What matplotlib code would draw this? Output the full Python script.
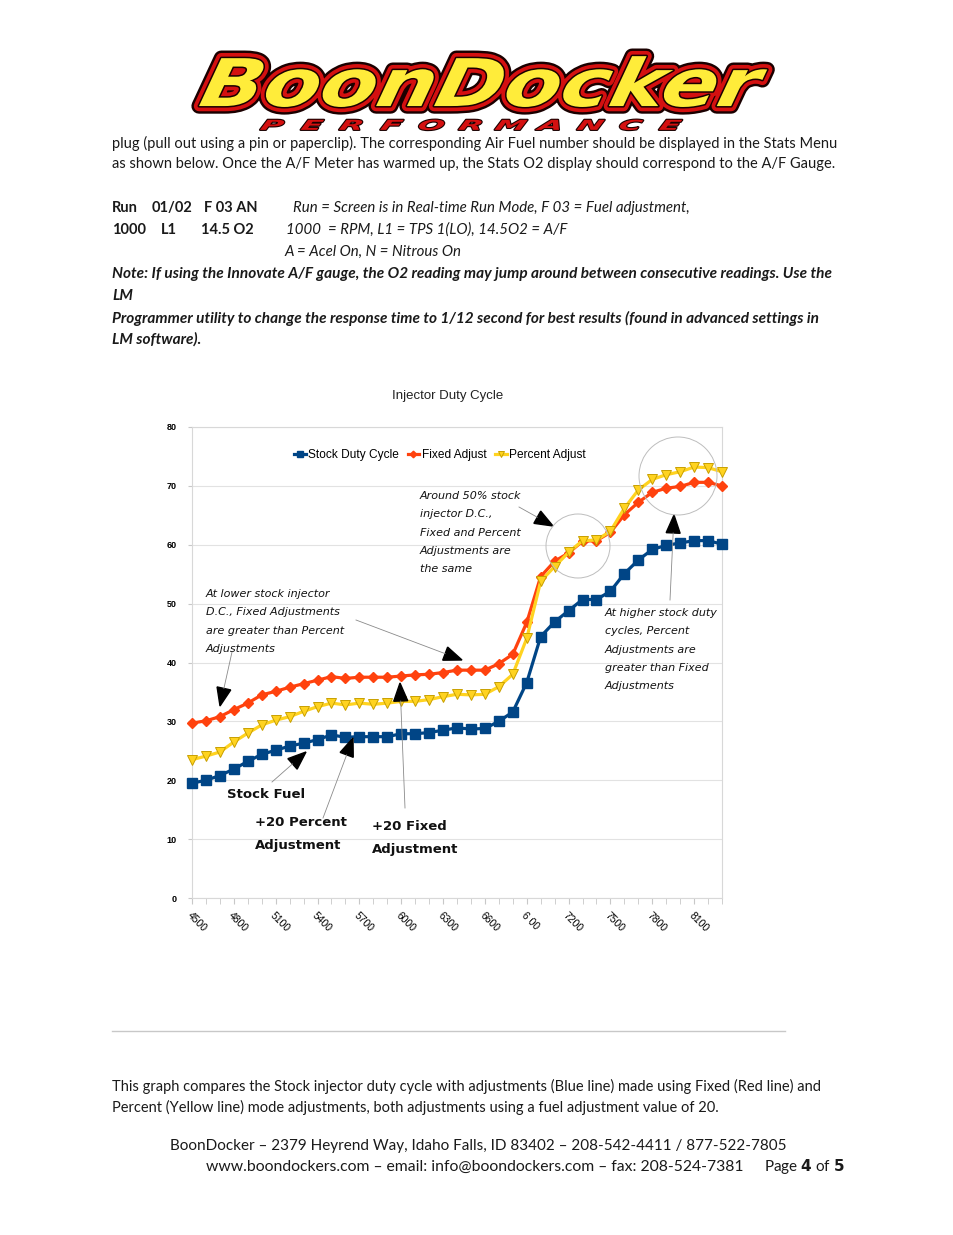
import numpy as np
import matplotlib
matplotlib.use("Agg")
import matplotlib.pyplot as plt
import matplotlib.patheffects as pe
import matplotlib.colors as mcolors
from matplotlib.patches import Polygon, Ellipse
from matplotlib.transforms import Affine2D

# chart data
rpm = [4500, 4600, 4700, 4800, 4900, 5000, 5100, 5200, 5300, 5400,
       5500, 5600, 5700, 5800, 5900, 6000, 6100, 6200, 6300, 6400,
       6500, 6600, 6700, 6800, 6900, 7000, 7100, 7200, 7300, 7400,
       7500, 7600, 7700, 7800, 7900, 8000, 8100, 8200, 8300]
stock = [19.5, 20.0, 20.8, 21.9, 23.2, 24.4, 25.1, 25.8, 26.3, 26.9,
         27.7, 27.3, 27.4, 27.4, 27.4, 27.9, 27.9, 28.1, 28.5, 28.9,
         28.7, 28.8, 30.0, 31.6, 36.6, 44.4, 46.9, 48.8, 50.7, 50.7,
         52.1, 55.1, 57.4, 59.2, 59.9, 60.3, 60.7, 60.7, 60.1]
fixed = [29.7, 30.1, 30.8, 32.0, 33.1, 34.5, 35.1, 35.8, 36.4, 37.0,
         37.6, 37.3, 37.5, 37.5, 37.5, 37.7, 37.9, 38.0, 38.3, 38.7,
         38.7, 38.7, 39.8, 41.4, 46.8, 54.6, 57.2, 58.6, 60.6, 60.7,
         62.1, 65.1, 67.2, 68.9, 69.6, 69.9, 70.6, 70.6, 70.0]
percent = [23.5, 24.1, 24.8, 26.5, 28.0, 29.4, 30.2, 30.8, 31.7, 32.5,
           33.1, 32.8, 33.1, 32.9, 33.1, 33.4, 33.4, 33.7, 34.2, 34.6,
           34.5, 34.6, 35.9, 38.0, 44.1, 53.8, 56.3, 58.7, 60.7, 60.8,
           62.3, 66.2, 69.3, 71.1, 71.9, 72.4, 73.2, 73.1, 72.4]
xlabels = ["4500", "4800", "5100", "5400", "5700", "6000", "6300",
           "6600", "6 00", "7200", "7500", "7800", "8100"]

W, H = 954, 1235
fig = plt.figure(figsize=(W / 100, H / 100), dpi=100)
fig.patch.set_facecolor("white")


def P(x, y):
    return (x / W, 1 - y / H)


def T(x, y, s, **kw):
    kw.setdefault("va", "center")
    kw.setdefault("family", "Lato")
    kw.setdefault("fontsize", 10.5)
    kw.setdefault("color", "#1a1a1a")
    fig.text(x / W, 1 - y / H, s, **kw)


class Squash(pe.AbstractPathEffect):
    # draws the text path stretched/skewed around (cx, cy) in pixels,
    # moved down by `down` pixels
    def __init__(self, cx, cy, sx=1, sy=1, skew=0, lw=0, ec=None, fc=None, down=0):
        super().__init__()
        self.cx, self.cy, self.sx, self.sy, self.skew = cx, H - cy, sx, sy, skew
        self.lw, self.ec, self.fc, self.down = lw, ec, fc, down

    def draw_path(self, renderer, gc, tpath, affine, rgbFace=None):
        extra = (Affine2D().translate(-self.cx, -self.cy).skew_deg(self.skew, 0)
                 .scale(self.sx, self.sy).translate(self.cx, self.cy - self.down))
        g = renderer.new_gc()
        g.copy_properties(gc)
        if self.lw:
            g.set_linewidth(self.lw)
            g.set_foreground(self.ec)
            g.set_joinstyle("round")
            renderer.draw_path(g, tpath, affine + extra, None)
        else:
            g.set_linewidth(0)
            renderer.draw_path(g, tpath, affine + extra, mcolors.to_rgba(self.fc))
        g.restore()


# ---- logo
lx, ly = 480, 70
sq = dict(sx=1.08, sy=0.86, skew=10, down=18)
T(lx, ly, "BoonDocker", ha="center", family="DejaVu Sans", fontsize=55,
  weight="bold", style="italic", color="#ffe617",
  path_effects=[Squash(lx, ly, lw=11, ec="#1a0000", **sq),
                Squash(lx, ly, lw=7.5, ec="#d41010", **sq),
                Squash(lx, ly, lw=2.2, ec="#1a0000", **sq),
                Squash(lx, ly, fc="#ffec3a", **sq)])
for i, ch in enumerate("PERFORMANCE"):
    cx = 272 + i * 39.8
    T(cx, 126, ch, ha="center", family="DejaVu Sans", fontsize=9,
      weight="bold", style="italic", color="#d41010",
      path_effects=[Squash(cx, 126, sx=2.5, sy=1.1, skew=8, lw=1.6, ec="#1a0000"),
                    Squash(cx, 126, sx=2.5, sy=1.1, skew=8, fc="#d41010")])

# ---- body text above chart
T(112, 143, "plug (pull out using a pin or paperclip). The corresponding Air Fuel number should be displayed in the Stats Menu")
T(112, 164, "as shown below. Once the A/F Meter has warmed up, the Stats O2 display should correspond to the A/F Gauge.")
for x, s in [(112, "Run"), (152, "01/02"), (204, "F 03 AN")]:
    T(x, 208, s, weight="bold")
for x, s in [(112, "1000"), (161, "L1"), (201, "14.5 O2")]:
    T(x, 230, s, weight="bold")
it = dict(style="italic", fontsize=10.8)
T(293, 208, "Run = Screen is in Real-time Run Mode, F 03 = Fuel adjustment,", **it)
T(286, 230, "1000  = RPM, L1 = TPS 1(LO), 14.5O2 = A/F", **it)
T(284, 252, "A = Acel On, N = Nitrous On", **it)
bi = dict(style="italic", weight="bold", fontsize=11.05)
T(112, 274, "Note: If using the Innovate A/F gauge, the O2 reading may jump around between consecutive readings. Use the", **bi)
T(112, 296, "LM", **bi)
T(112, 318, "Programmer utility to change the response time to 1/12 second for best results (found in advanced settings in", **bi)
T(112, 339, "LM software).", **bi)

# ---- chart
ax = fig.add_axes([192 / W, 1 - 898 / H, 530 / W, 471 / H])
x = np.arange(len(rpm))
ax.plot(x, stock, color="#004586", lw=2.3, marker="s", ms=6.5,
        label="Stock Duty Cycle", clip_on=False, zorder=3)
ax.plot(x, fixed, color="#ff420e", lw=2.3, marker="D", ms=4.8,
        label="Fixed Adjust", clip_on=False, zorder=4)
ax.plot(x, percent, color="#ffd320", lw=2.3, marker="v", ms=7,
        mec="#c9a000", mew=0.7, label="Percent Adjust", clip_on=False, zorder=5)

ax.set_xlim(0, len(rpm) - 1)
ax.set_ylim(0, 80)
ax.set_yticks(range(0, 81, 10))
ax.set_xticks(x, minor=True)
ax.set_xticks(x[::3])
ax.set_xticklabels(xlabels, rotation=-45, ha="left", va="top",
                   rotation_mode="anchor", fontsize=7.5, family="Liberation Sans")
ax.tick_params(axis="x", which="both", length=4, color="#c8c8c8", pad=5)
ax.tick_params(axis="y", length=3, color="#c8c8c8", labelsize=6.5, pad=8)
for lab in ax.get_yticklabels():
    lab.set_family("Liberation Sans")
    lab.set_weight("bold")
ax.grid(axis="y", color="#e2e2e2", lw=0.8)
ax.set_axisbelow(True)
for s in ax.spines.values():
    s.set_color("#d8d8d8")
    s.set_linewidth(0.8)

fig.text(448 / W, 1 - 396 / H, "Injector Duty Cycle", ha="center", va="center",
         family="Liberation Sans", fontsize=9.5, color="#222222")
ax.legend(loc="center", bbox_to_anchor=P(440, 455), bbox_transform=fig.transFigure,
          ncol=3, frameon=False, prop={"family": "Liberation Sans", "size": 8.6},
          handlelength=1.0, handletextpad=0.2, columnspacing=0.7, markerscale=0.7)

# annotations
ann = dict(family="DejaVu Sans", style="italic", fontsize=8, color="#111111")
for i, s in enumerate(["Around 50% stock", "injector D.C.,", "Fixed and Percent",
                       "Adjustments are", "the same"]):
    T(420, 496 + i * 18.3, s, **ann)
for i, s in enumerate(["At lower stock injector", "D.C., Fixed Adjustments",
                       "are greater than Percent", "Adjustments"]):
    T(206, 594 + i * 18.3, s, **ann)
for i, s in enumerate(["At higher stock duty", "cycles, Percent", "Adjustments are",
                       "greater than Fixed", "Adjustments"]):
    T(605, 613 + i * 18.3, s, **ann)
bold = dict(family="DejaVu Sans", weight="bold", fontsize=9.5, color="#111111")
T(227, 794, "Stock Fuel", **bold)
T(255, 822, "+20 Percent", **bold)
T(255, 845, "Adjustment", **bold)
T(372, 826, "+20 Fixed", **bold)
T(372, 849, "Adjustment", **bold)


def arrow(x0, y0, x1, y1, hl=18, hw=7):
    d = np.array([x1 - x0, y1 - y0], float)
    d /= np.hypot(*d)
    n = np.array([-d[1], d[0]])
    tip = np.array([x1, y1])
    base = tip - d * hl
    fig.add_artist(plt.Line2D([x0 / W, base[0] / W], [1 - y0 / H, 1 - base[1] / H],
                              color="#8a8a8a", lw=0.6))
    pts = [tip, base + n * hw, base - n * hw]
    fig.add_artist(Polygon([P(*p) for p in pts], closed=True, color="black",
                           transform=fig.transFigure))


arrow(519, 507, 553, 526)
arrow(670, 600, 674, 515)
arrow(232, 652, 220, 706)
arrow(356, 620, 462, 660)
arrow(272, 782, 306, 752)
arrow(323, 818, 353, 738)
arrow(405, 808, 400, 683)

for cx, cy, r in [(578, 546, 32), (678, 476, 39)]:
    fig.add_artist(Ellipse(P(cx, cy), 2 * r / W, 2 * r / H, fill=False,
                           ec="#bdbdbd", lw=0.7, transform=fig.transFigure))

# ---- text below chart
fig.add_artist(plt.Line2D([112 / W, 785 / W], [1 - 1031 / H] * 2, color="#c8c8c8", lw=1))
T(112, 1086, "This graph compares the Stock injector duty cycle with adjustments (Blue line) made using Fixed (Red line) and")
T(112, 1107, "Percent (Yellow line) mode adjustments, both adjustments using a fuel adjustment value of 20.")
T(170, 1146, "BoonDocker \u2013 2379 Heyrend Way, Idaho Falls, ID 83402 \u2013 208-542-4411 / 877-522-7805",
  fontsize=11.0)
T(206, 1167, "www.boondockers.com \u2013 email: info@boondockers.com \u2013 fax: 208-524-7381", fontsize=11.3)
T(764, 1167, "Page $\\bf{4}$ of $\\bf{5}$", fontsize=11.0)

fig.savefig("out.png", dpi=100)
